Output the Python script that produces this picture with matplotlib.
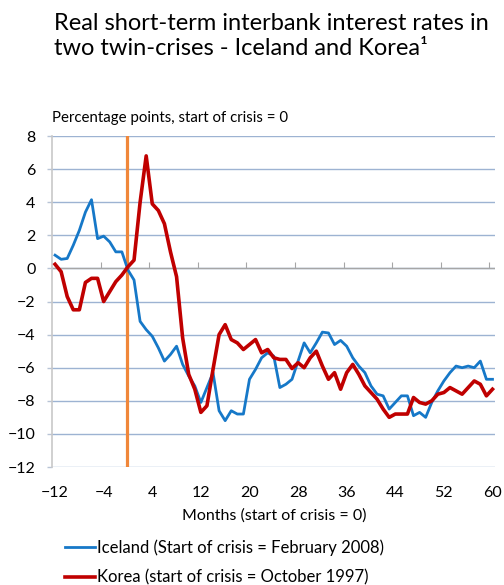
import matplotlib
matplotlib.use("Agg")
import matplotlib.pyplot as plt

plt.rcParams['font.family'] = ['Lato', 'DejaVu Sans']

# months relative to start of crisis
months = list(range(-12, 61))

iceland = [0.8, 0.55, 0.6, 1.4, 2.3, 3.4, 4.15, 1.8, 1.95, 1.6, 1.0, 1.0,
           -0.1, -0.7, -3.2, -3.7, -4.1, -4.8, -5.6, -5.2, -4.7, -5.8, -6.5, -7.1,
           -8.1, -7.2, -6.3, -8.6, -9.2, -8.6, -8.8, -8.8, -6.7, -6.1, -5.4, -5.1,
           -5.3, -7.2, -7.0, -6.7, -5.6, -4.5, -5.1, -4.5, -3.85, -3.9, -4.6, -4.35,
           -4.7, -5.4, -5.9, -6.3, -7.1, -7.6, -7.7, -8.5, -8.1, -7.7, -7.7, -8.9,
           -8.7, -9.0, -8.1, -7.4, -6.8, -6.3, -5.9, -6.0, -5.9, -6.0, -5.6, -6.7,
           -6.7]

korea = [0.25, -0.2, -1.7, -2.5, -2.5, -0.85, -0.6, -0.6, -2.0, -1.4, -0.8, -0.4,
         0.1, 0.5, 4.0, 6.8, 3.9, 3.5, 2.7, 1.0, -0.5, -4.2, -6.4, -7.3,
         -8.7, -8.3, -6.1, -4.0, -3.4, -4.3, -4.5, -4.9, -4.6, -4.3, -5.1, -4.9,
         -5.4, -5.5, -5.5, -6.05, -5.7, -6.0, -5.4, -5.0, -5.9, -6.7, -6.3, -7.3,
         -6.3, -5.8, -6.4, -7.1, -7.5, -7.9, -8.5, -9.0, -8.8, -8.8, -8.8, -7.8,
         -8.1, -8.2, -8.0, -7.6, -7.5, -7.2, -7.4, -7.6, -7.2, -6.8, -7.0, -7.7,
         -7.3]

x_ticks = list(range(-12, 61, 8))
y_ticks = list(range(-12, 9, 2))
crisis_start = -0.2

blue = '#1678C8'
red = '#C00000'
orange = '#F0873A'
grid_col = '#9DB3D2'

fig = plt.figure(figsize=(5.04, 5.85), dpi=100)
ax = fig.add_axes([0.1038, 0.2017, 0.8788, 0.5658])

ax.set_xlim(-12.45, 60.45)
ax.set_ylim(-12, 8)
ax.set_yticks(y_ticks)
ax.set_xticks(x_ticks)
ax.grid(axis='y', color=grid_col, linewidth=1.0)
ax.set_axisbelow(True)

for s in ['top', 'right', 'bottom']:
    ax.spines[s].set_visible(False)
ax.spines['left'].set_color('#C8C8C8')
ax.spines['left'].set_linewidth(1.2)
ax.tick_params(axis='both', labelsize=11.5, colors='black')
ax.tick_params(axis='y', direction='out', length=3.6, width=1.0, color='#B8C4D6', pad=8.5)
ax.tick_params(axis='x', length=0, pad=14)

# zero line with category tick marks
ax.axhline(0, color='#A6A6A6', linewidth=1.0, zorder=1)
sec = ax.secondary_xaxis(0.6)
sec.set_xticks([t - 0.5 for t in x_ticks[1:]])
sec.tick_params(direction='out', length=4, color='#A6A6A6', labelbottom=False, labeltop=False)
sec.spines['bottom'].set_visible(False)
sec.spines['top'].set_visible(False)

ax.axvline(crisis_start, color=orange, linewidth=2.3, zorder=2)
ax.plot(months, iceland, color=blue, linewidth=2.0, zorder=3,
        label='Iceland (Start of crisis = February 2008)')
ax.plot(months, korea, color=red, linewidth=2.6, zorder=4,
        label='Korea (start of crisis = October 1997)')

ax.set_xlabel('Months (start of crisis = 0)', fontsize=11.5, labelpad=6)

fig.text(0.108, 0.978, 'Real short-term interbank interest rates in\ntwo twin-crises - Iceland and Korea\u00b9',
         fontsize=17, va='top', ha='left', linespacing=1.22)
fig.text(0.104, 0.798, 'Percentage points, start of crisis = 0', fontsize=10.8, va='center', ha='left')

ax.legend(loc='upper left', bbox_to_anchor=(0.128, 0.078), bbox_transform=fig.transFigure,
          frameon=False, fontsize=12, handlelength=1.8, handletextpad=0.12,
          borderpad=0, borderaxespad=0, labelspacing=0.82)

fig.savefig('out.png', dpi=100)
